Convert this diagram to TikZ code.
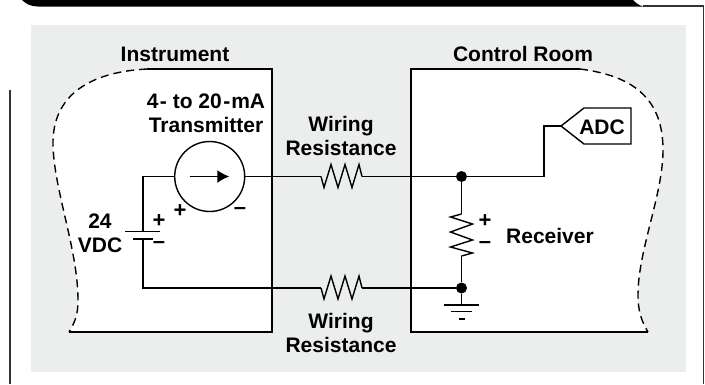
\documentclass[tikz,border=0pt]{standalone}
\usepackage{fontspec}
\setmainfont{Liberation Sans}
\usepackage{tikz}
\usetikzlibrary{positioning,arrows.meta,calc}

\definecolor{panelgray}{HTML}{ECEEEE}
\tikzset{
	wire/.style={line width=1.4pt},
	edge/.style={line width=1.5pt},
	lbl/.style={font=\fontsize{21}{24}\selectfont\bfseries,align=center,inner sep=0pt},
	sign/.style={font=\fontsize{22}{24}\selectfont\bfseries,inner sep=0pt},
	dot/.style={circle,fill=black,inner sep=0pt,minimum size=11pt},
	wireres/.pic={\draw[wire,line join=miter] (0,0) -- (3,11) -- (10,-12) -- (17,11) -- (24,-12) -- (31,11) -- (38,-12) -- (41,0);},
	loadres/.pic={\draw[wire,line join=miter] (0,0) -- (-11,3) -- (11,10) -- (-11,18) -- (11,26) -- (-11,33) -- (11,39) -- (0,42);}
}

\begin{document}
\begin{tikzpicture}[x=1pt,y=-1pt,>=latex]
	\useasboundingbox (0,0) rectangle (705,384);

	% page furniture
	\fill (22,0) .. controls (26,4) and (31,6.5) .. (38,6.5) -- (643,6.5) .. controls (638,5) and (635,2) .. (633,0) -- cycle;
	\draw[line width=1.2pt,black!80] (643,6) -- (703.5,6) -- (703.5,384);
	\draw[line width=1.2pt,black!80] (10,90) -- (10,384);
	\fill[panelgray] (31,25) rectangle (686,372);

	% instrument and control room
	\fill[white] (272,69) -- (147,69) .. controls (90,72) and (52,95) .. (53,145)
		.. controls (54,190) and (78,250) .. (78,300) .. controls (78,315) and (75,322) .. (69,332)
		-- (272,332) -- cycle;
	\fill[white] (411,69) -- (580,69) .. controls (635,76) and (663,100) .. (663,150)
		.. controls (663,195) and (638,250) .. (638,295) .. controls (638,312) and (642,322) .. (648,332)
		-- (411,332) -- cycle;
	\draw[edge] (147,69) -- (272,69) -- (272,332) -- (69,332);
	\draw[edge] (580,69) -- (411,69) -- (411,332) -- (648,332);
	\draw[wire,dash pattern=on 8pt off 5pt] (147,69) .. controls (90,72) and (52,95) .. (53,145)
		.. controls (54,190) and (78,250) .. (78,300) .. controls (78,315) and (75,322) .. (69,332);
	\draw[wire,dash pattern=on 8pt off 5pt] (580,69) .. controls (635,76) and (663,100) .. (663,150)
		.. controls (663,195) and (638,250) .. (638,295) .. controls (638,312) and (642,322) .. (648,332);

	\node[lbl] (instr) at (175,54) {Instrument};
	\node[lbl] (room) at (523,54) {Control Room};
	\node[lbl] (trans) at (206,113.5) {4\kern1.5pt- to 20\kern1.5pt-\kern1pt mA\\Transmitter};
	\node[lbl] (wtop) at (341,136) {Wiring\\Resistance};
	\node[lbl] (wbot) at (341,332.5) {Wiring\\Resistance};
	\node[lbl] (vdc) at (100,233) {24\\VDC};
	\node[lbl] (recv) at (550,236) {Receiver};

	% source and battery
	\node[circle,draw,wire,inner sep=0pt,minimum size=70pt] (src) at (209.7,176.5) {};
	\node[inner sep=0pt] (arrl) at (189,176.5) {};
	\node[inner sep=0pt] (arrr) at (230,176.5) {};
	\draw[wire,-{Latex[length=12pt,width=13pt]}] (arrl) -- (arrr);
	\coordinate (batp) at (143,231.5);
	\coordinate (batm) at (143,239);
	\draw[wire] ($(batp)+(-18,0)$) -- ($(batp)+(17,0)$);
	\draw[wire] ($(batm)+(-10,0)$) -- ($(batm)+(10,0)$);
	\node[sign] (s1) at (180,211) {+};
	\node[sign] (s2) at (240,211) {--};
	\node[sign] (s3) at (159,221) {+};
	\node[sign] (s4) at (159,245) {--};
	\node[sign] (s5) at (485,221) {+};
	\node[sign] (s6) at (485,245) {--};

	% wiring
	\coordinate (rt1) at (321,176.5);
	\coordinate (rt2) at (362,176.5);
	\coordinate (rb1) at (321,288);
	\coordinate (rb2) at (362,288);
	\node[dot] (jtop) at (461.5,176.5) {};
	\node[dot] (jbot) at (461.5,288) {};
	\coordinate (rl1) at (461.5,214);
	\coordinate (rl2) at (461.5,256);
	\coordinate (gnd) at (461.5,305);
	\coordinate (adctip) at (561,126);

	\draw[wire] (src.west) -| (batp);
	\draw[wire] (batm) |- (rb1);
	\draw[wire] (src.east) -- (rt1);
	\draw[wire] (rt2) -- (jtop);
	\draw[wire] (rb2) -- (jbot);
	\draw[wire] (jtop) -- (rl1);
	\draw[wire] (rl2) -- (jbot);
	\draw[wire] (jbot) -- (gnd);
	\draw[wire] (jtop) -| (544,126) -- (adctip);
	\pic at (rt1) {wireres};
	\pic at (rb1) {wireres};
	\pic at (rl1) {loadres};

	% ground
	\draw[wire] ($(gnd)+(-17.5,0)$) -- ($(gnd)+(17.5,0)$);
	\draw[wire] ($(gnd)+(-10.5,6.5)$) -- ($(gnd)+(10.5,6.5)$);
	\draw[wire] ($(gnd)+(-3,14)$) -- ($(gnd)+(3,14)$);

	% converter
	\draw[wire] (adctip) -- (584,108) -- (631,108) -- (631,144) -- (584,144) -- cycle;
	\node[lbl] (adc) at (602,127) {ADC};
\end{tikzpicture}
\end{document}
